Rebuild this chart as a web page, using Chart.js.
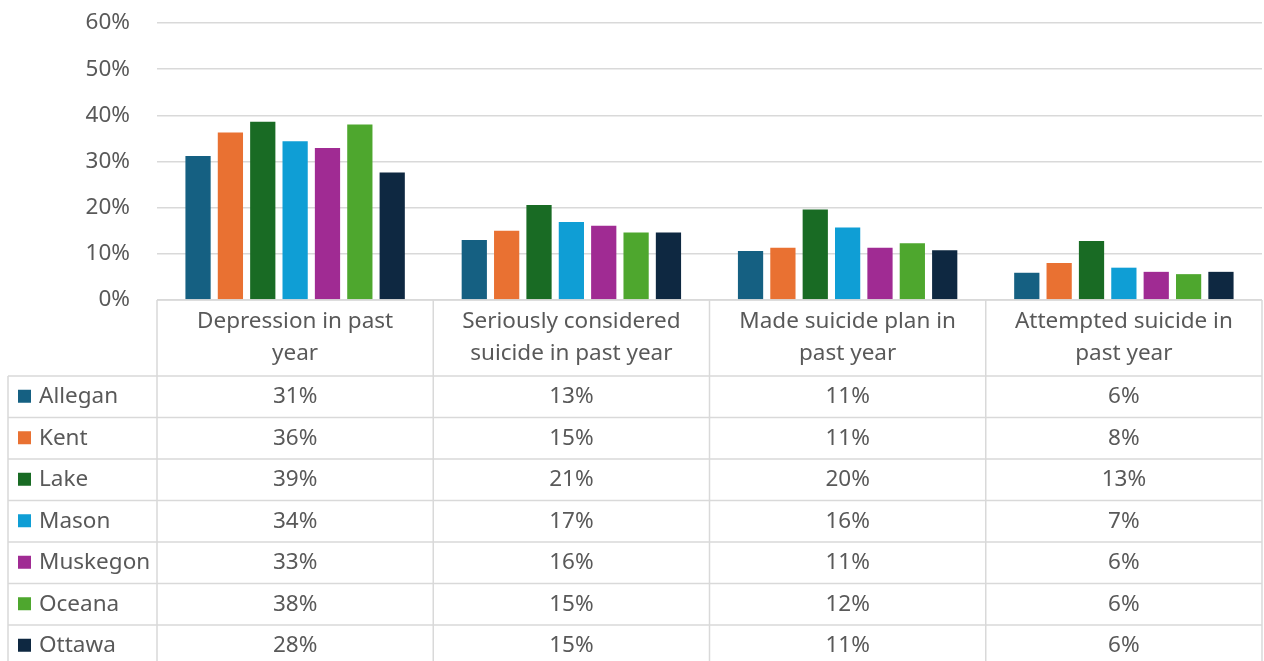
<!DOCTYPE html>
<html>
<head>
<meta charset="utf-8">
<script src="https://cdn.jsdelivr.net/npm/chart.js@4.4.1/dist/chart.umd.min.js"></script>
<style>
  html, body { margin: 0; padding: 0; background: #fff; }
  #wrap { width: 1264px; height: 661px; position: relative; }
</style>
</head>
<body>
<div id="wrap"><canvas id="chart"></canvas></div>
<script>
// categorias (duas linhas cada)
const categories = [
  ["Depression in past", "year"],
  ["Seriously considered", "suicide in past year"],
  ["Made suicide plan in", "past year"],
  ["Attempted suicide in", "past year"]
];

const counties = ["Allegan", "Kent", "Lake", "Mason", "Muskegon", "Oceana", "Ottawa"];
const colors = ["#156082", "#E97132", "#196B24", "#0F9ED5", "#A02B93", "#4EA72E", "#0E2841"];

// valores em %
const allegan  = [31.2, 13.0, 10.6, 5.9];
const kent     = [36.3, 15.0, 11.3, 8.0];
const lake     = [38.6, 20.6, 19.6, 12.8];
const mason    = [34.4, 16.9, 15.7, 7.0];
const muskegon = [32.9, 16.1, 11.3, 6.1];
const oceana   = [38.0, 14.6, 12.3, 5.6];
const ottawa   = [27.6, 14.6, 10.8, 6.1];

const series = [allegan, kent, lake, mason, muskegon, oceana, ottawa];
const yTicks = [0, 10, 20, 30, 40, 50, 60];

const FONT = "'Noto Sans', sans-serif";
const FSIZE = 22.5;
const TEXT = "#595959";
const LINE = "#d9d9d9";

// tabela de dados desenhada embaixo do gráfico
const dataTable = {
  id: "dataTable",
  afterDraw(chart) {
    const ctx = chart.ctx;
    const area = chart.chartArea;
    const n = categories.length;
    const colW = (area.right - area.left) / n;
    const top = area.bottom;
    const headH = 76;
    const rowH = 41.5;
    const leftEdge = 8;
    const bodyTop = top + headH;
    const bottom = bodyTop + rowH * counties.length;

    ctx.save();
    ctx.strokeStyle = LINE;
    ctx.lineWidth = 1.5;
    ctx.beginPath();
    // linha superior do cabeçalho
    ctx.moveTo(area.left, top); ctx.lineTo(area.right, top);
    // linhas verticais das colunas
    for (let i = 0; i <= n; i++) {
      const x = area.left + i * colW;
      ctx.moveTo(x, top); ctx.lineTo(x, bottom);
    }
    ctx.moveTo(leftEdge, bodyTop); ctx.lineTo(leftEdge, bottom);
    // linhas horizontais
    for (let r = 0; r <= counties.length; r++) {
      const y = bodyTop + r * rowH;
      ctx.moveTo(leftEdge, y); ctx.lineTo(area.right, y);
    }
    ctx.stroke();

    ctx.font = FSIZE + "px " + FONT;
    ctx.fillStyle = TEXT;
    ctx.textBaseline = "middle";
    ctx.textAlign = "center";
    categories.forEach((lines, i) => {
      const cx = area.left + (i + 0.5) * colW;
      lines.forEach((t, k) => ctx.fillText(t, cx, top + 22 + k * 32));
    });

    counties.forEach((name, r) => {
      const cy = bodyTop + (r + 0.5) * rowH;
      ctx.fillStyle = colors[r];
      ctx.fillRect(18, cy - 7, 13, 13);
      ctx.fillStyle = TEXT;
      ctx.textAlign = "left";
      ctx.fillText(name, 39, cy);
      ctx.textAlign = "center";
      series[r].forEach((v, i) => {
        const cx = area.left + (i + 0.5) * colW;
        ctx.fillText(Math.round(v) + "%", cx, cy);
      });
    });
    ctx.restore();
  }
};

new Chart(document.getElementById("chart"), {
  type: "bar",
  data: {
    labels: categories.map(c => c.join(" ")),
    datasets: counties.map((name, i) => ({
      label: name,
      data: series[i],
      backgroundColor: colors[i],
      borderWidth: 0,
      barPercentage: 0.78,
      categoryPercentage: 0.82
    }))
  },
  options: {
    responsive: true,
    maintainAspectRatio: false,
    animation: false,
    layout: { padding: { left: 0, right: 2, top: 23, bottom: 361 } },
    plugins: {
      legend: { display: false },
      tooltip: { enabled: false }
    },
    scales: {
      x: { display: false },
      y: {
        min: 0,
        max: 60,
        afterBuildTicks(scale) { scale.ticks = yTicks.map(v => ({ value: v })); },
        afterFit(scale) {
          scale.width = 157;
          scale.paddingTop = 0;
          scale.paddingBottom = 0;
        },
        border: { display: false },
        grid: { color: LINE, lineWidth: 1.5, drawTicks: false },
        ticks: {
          padding: 27,
          color: TEXT,
          font: { family: FONT, size: FSIZE },
          callback: v => v + "%"
        }
      }
    }
  },
  plugins: [dataTable]
});
</script>
</body>
</html>
